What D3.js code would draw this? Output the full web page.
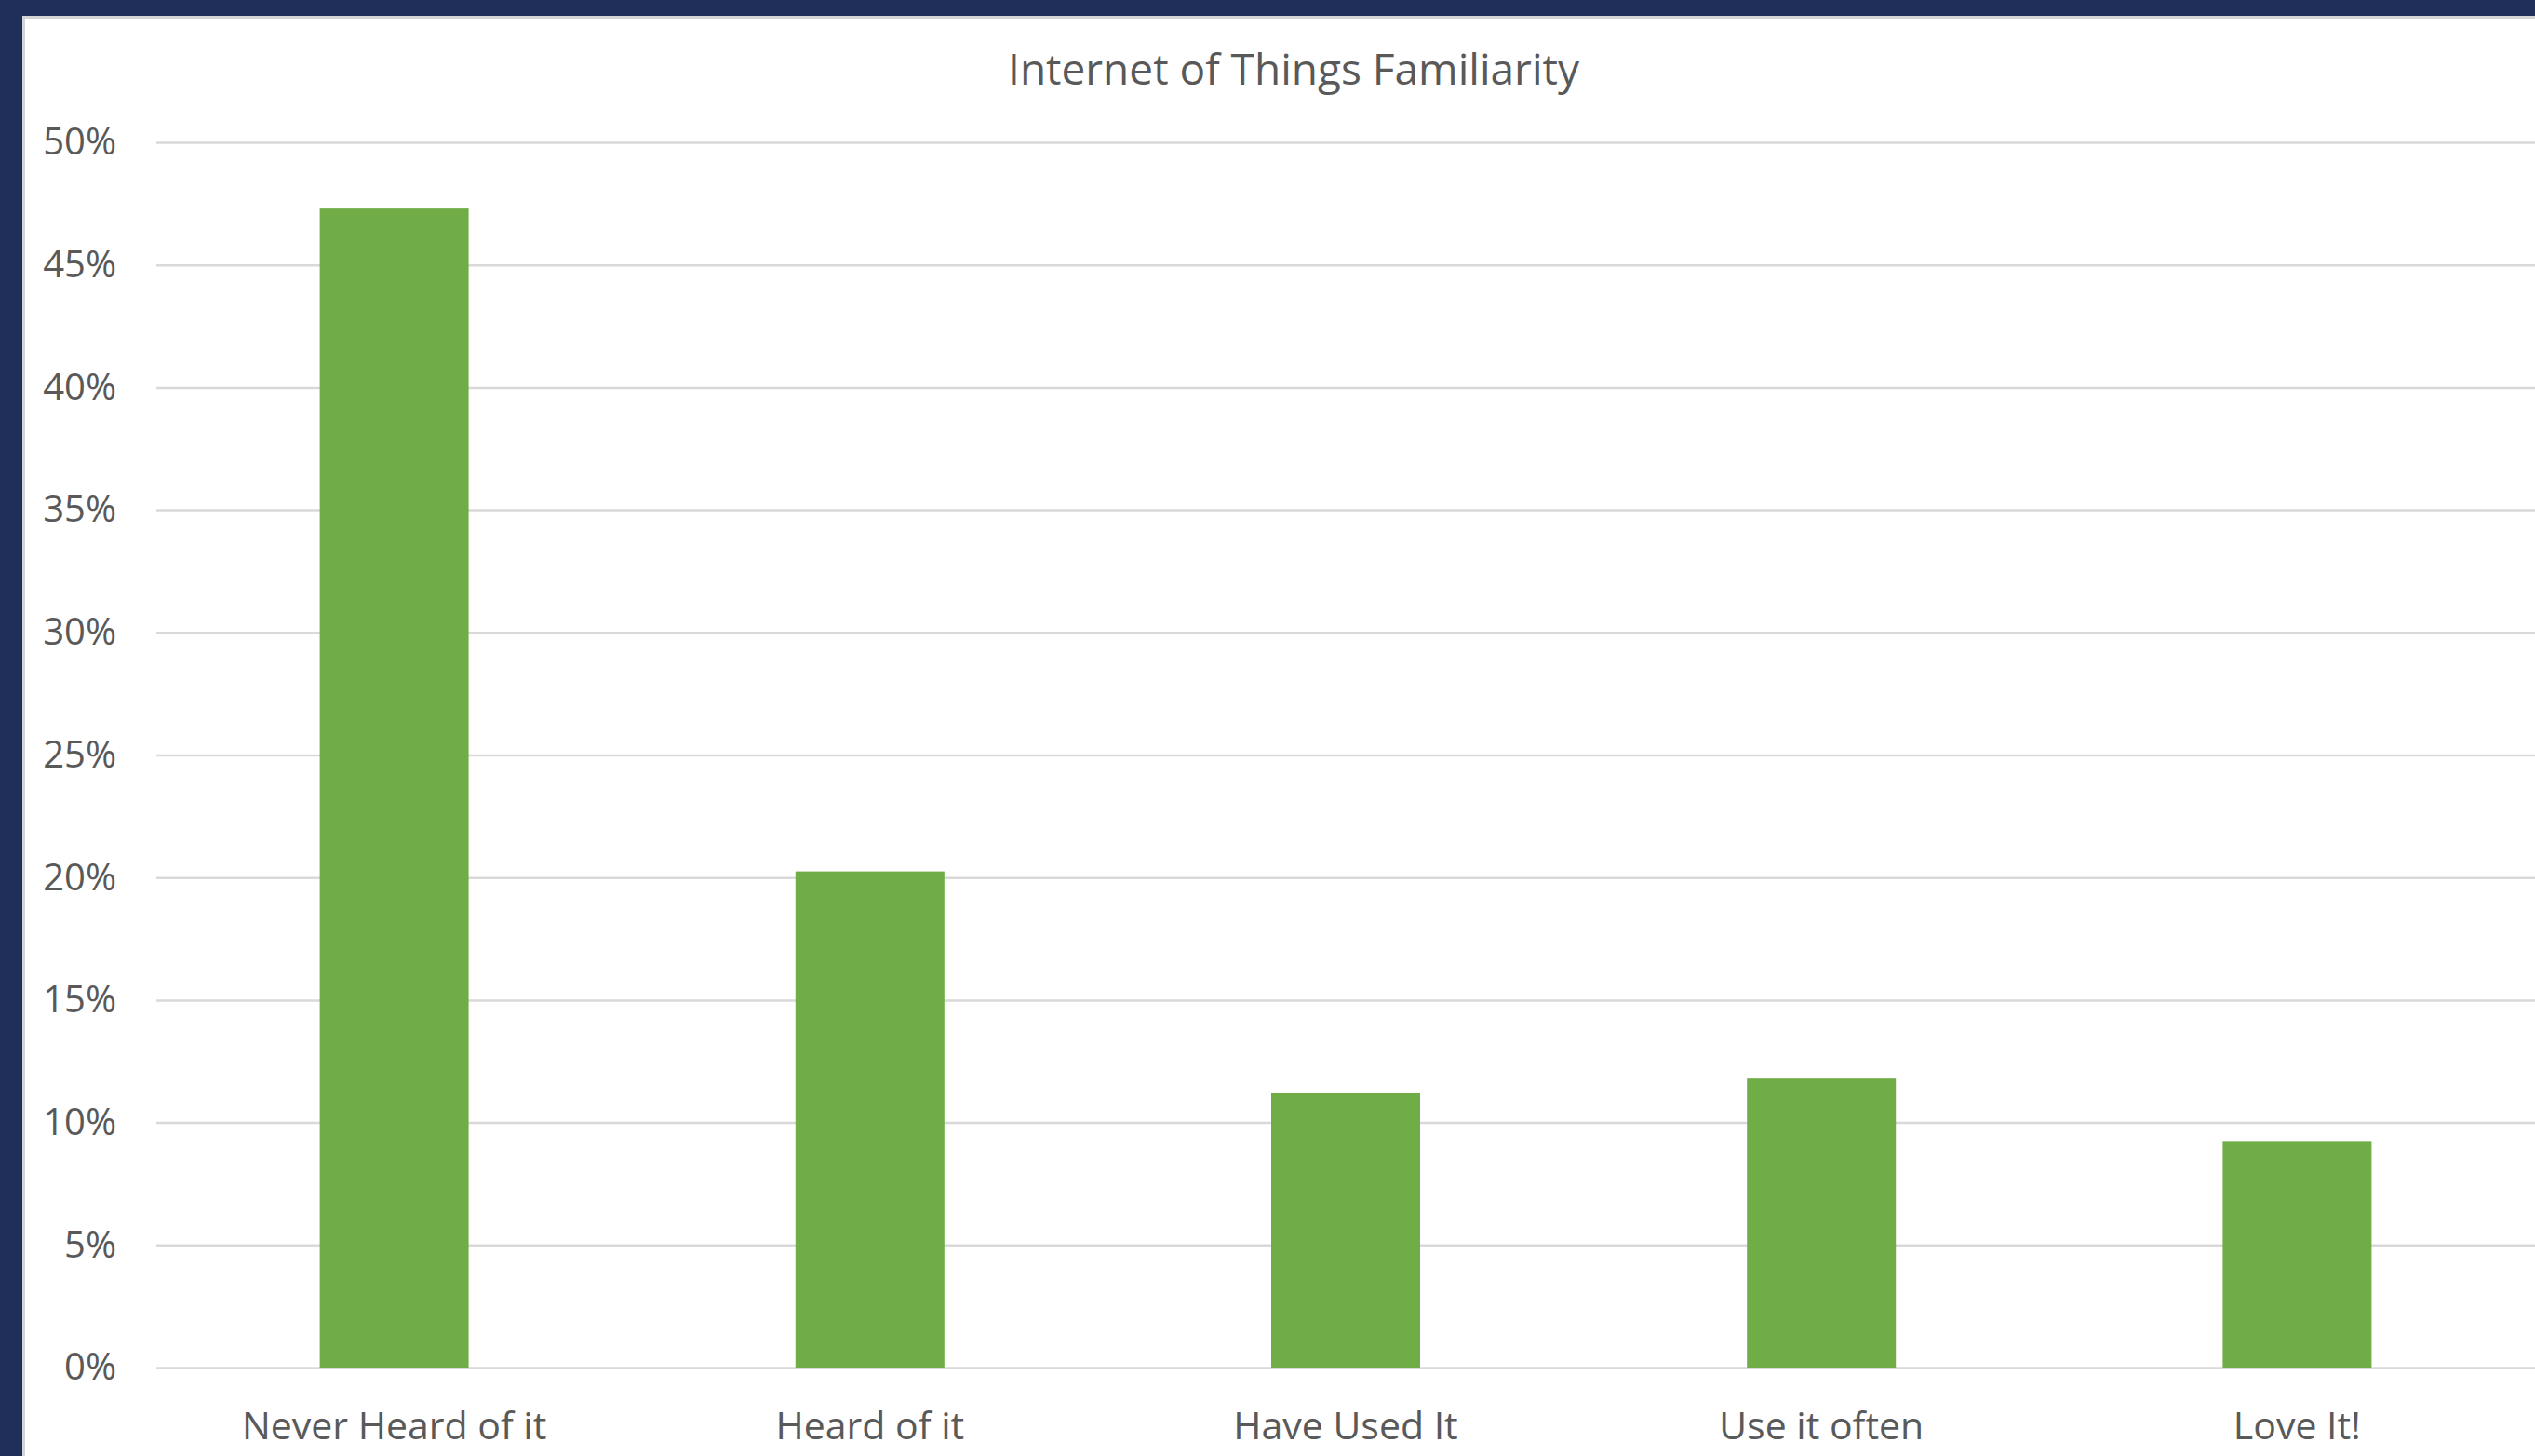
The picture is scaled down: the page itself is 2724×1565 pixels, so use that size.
<!DOCTYPE html>
<html>
<head>
<meta charset="utf-8">
<script src="https://cdn.jsdelivr.net/npm/d3@7"></script>
<style>
  html, body { margin: 0; padding: 0; background: #ffffff; }
  svg { display: block; }
</style>
</head>
<body>
<script>
const title = "Internet of Things Familiarity";
const categories = ["Never Heard of it", "Heard of it", "Have Used It", "Use it often", "Love It!"];
const values = [0.473, 0.2025, 0.112, 0.118, 0.0925];
const yTicks = [0, 0.05, 0.10, 0.15, 0.20, 0.25, 0.30, 0.35, 0.40, 0.45, 0.50];

const W = 2724, H = 1565;
const plot = { left: 168, right: 2724, top: 153, bottom: 1470 };

const svg = d3.select("body").append("svg").attr("width", W).attr("height", H);

svg.append("rect").attr("width", W).attr("height", H).attr("fill", "#ffffff");

// frame
svg.append("rect").attr("x", 0).attr("y", 0).attr("width", W).attr("height", 17).attr("fill", "#1f2f5a");
svg.append("rect").attr("x", 0).attr("y", 0).attr("width", 24).attr("height", H).attr("fill", "#1f2f5a");
svg.append("line").attr("x1", 24).attr("x2", W).attr("y1", 18.5).attr("y2", 18.5)
  .attr("stroke", "#d4d4d4").attr("stroke-width", 3);
svg.append("line").attr("x1", 25.5).attr("x2", 25.5).attr("y1", 17).attr("y2", H)
  .attr("stroke", "#d4d4d4").attr("stroke-width", 3);

const y = d3.scaleLinear().domain([0, 0.5]).range([plot.bottom, plot.top]);
const x = d3.scaleBand().domain(categories).range([plot.left, plot.right])
  .paddingInner(0.687).paddingOuter(0.3435);

const fmt = d3.format(".0%");

const yAxis = svg.append("g")
  .attr("transform", `translate(${plot.left},0)`)
  .call(d3.axisLeft(y).tickValues(yTicks).tickFormat(fmt)
        .tickSize(-(plot.right - plot.left)).tickPadding(43));
yAxis.select(".domain").remove();
yAxis.selectAll(".tick line").attr("stroke", "#d9d9d9").attr("stroke-width", 2.5);
yAxis.selectAll(".tick text")
  .attr("fill", "#595959")
  .style("font-family", "'Open Sans', sans-serif")
  .style("font-size", "40px");

svg.append("g").selectAll("rect").data(values).join("rect")
  .attr("x", (d, i) => x(categories[i]))
  .attr("width", x.bandwidth())
  .attr("y", d => y(d))
  .attr("height", d => y(0) - y(d))
  .attr("fill", "#70ad47");

const xAxis = svg.append("g")
  .attr("transform", `translate(0,${plot.bottom})`)
  .call(d3.axisBottom(x).tickSize(0).tickPadding(48));
xAxis.select(".domain").remove();
xAxis.selectAll(".tick text")
  .attr("fill", "#595959")
  .style("font-family", "'Open Sans', sans-serif")
  .style("font-size", "41px");

svg.append("text")
  .attr("x", 1390).attr("y", 91)
  .attr("text-anchor", "middle")
  .attr("fill", "#595959")
  .style("font-family", "'Open Sans', sans-serif")
  .style("font-size", "46px")
  .text(title);
</script>
</body>
</html>
